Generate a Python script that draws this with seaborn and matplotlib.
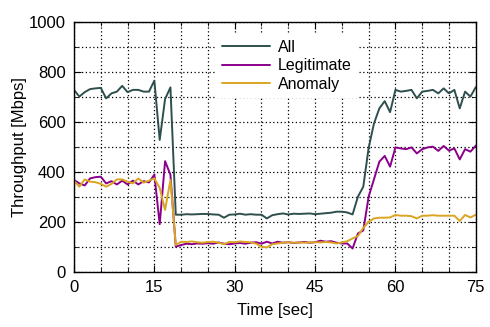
# Throughput over time: all traffic vs legitimate vs anomaly
import numpy as np
import pandas as pd
import seaborn as sns
import matplotlib.pyplot as plt
from matplotlib.ticker import MultipleLocator

time_sec = list(range(76))

all_mbps = [727, 700, 718, 730, 733, 735, 693, 713, 720, 743,
            718, 727, 727, 720, 720, 764, 527, 690, 737, 228,
            228, 230, 229, 230, 231, 231, 229, 228, 216, 228,
            229, 232, 228, 230, 228, 228, 213, 226, 230, 233,
            229, 232, 231, 232, 233, 230, 232, 234, 236, 240,
            240, 237, 229, 300, 340, 495, 593, 653, 682, 638,
            727, 720, 723, 727, 693, 720, 723, 727, 713, 733,
            713, 727, 653, 720, 700, 738]

legit_mbps = [367, 353, 345, 373, 378, 380, 353, 362, 349, 364,
              349, 364, 349, 362, 357, 388, 190, 442, 388, 100,
              107, 112, 110, 113, 112, 114, 112, 117, 112, 110,
              113, 115, 112, 116, 118, 112, 120, 113, 120, 116,
              118, 115, 117, 119, 116, 118, 124, 120, 122, 116,
              113, 113, 93, 153, 165, 300, 370, 440, 463, 420,
              497, 493, 490, 497, 473, 490, 497, 500, 483, 503,
              484, 493, 449, 490, 480, 504]

anomaly_mbps = [364, 340, 369, 360, 358, 351, 340, 351, 369, 369,
                360, 353, 373, 356, 364, 373, 335, 247, 367, 107,
                120, 119, 121, 118, 116, 119, 120, 116, 110, 119,
                118, 121, 119, 118, 112, 100, 97, 110, 113, 116,
                118, 116, 117, 116, 117, 118, 117, 119, 117, 113,
                117, 122, 133, 143, 175, 200, 213, 216, 216, 217,
                227, 224, 224, 222, 213, 224, 224, 226, 224, 224,
                224, 224, 203, 227, 217, 228]

series_names = ["All", "Legitimate", "Anomaly"]
colors = ["#2f4f4f", "#8b008b", "#daa520"]

df = pd.concat([
    pd.DataFrame({"time": time_sec, "mbps": all_mbps, "kind": "All"}),
    pd.DataFrame({"time": time_sec, "mbps": legit_mbps, "kind": "Legitimate"}),
    pd.DataFrame({"time": time_sec, "mbps": anomaly_mbps, "kind": "Anomaly"}),
])

sns.set_style("ticks")
plt.rcParams["font.family"] = ["Liberation Sans", "DejaVu Sans"]
plt.rcParams["font.size"] = 12
plt.rcParams["text.color"] = "black"
plt.rcParams["axes.labelcolor"] = "black"
plt.rcParams["xtick.color"] = "black"
plt.rcParams["ytick.color"] = "black"

fig = plt.figure(figsize=(4.9, 3.27), dpi=100)
ax = fig.add_axes([0.151, 0.169, 0.820, 0.765])

sns.lineplot(data=df, x="time", y="mbps", hue="kind", hue_order=series_names,
             palette=colors, linewidth=1.4, ax=ax)

ax.set_xlim(0, 75)
ax.set_ylim(0, 1000)
ax.xaxis.set_major_locator(MultipleLocator(15))
ax.xaxis.set_minor_locator(MultipleLocator(5))
ax.yaxis.set_major_locator(MultipleLocator(200))
ax.yaxis.set_minor_locator(MultipleLocator(100))
ax.grid(True, which="both", color="black", linestyle=(0, (1, 2)), linewidth=0.9)
ax.set_axisbelow(True)
ax.tick_params(which="both", direction="in", top=True, right=True, labelsize=12, pad=6)
ax.tick_params(which="major", length=5)
ax.tick_params(which="minor", length=3)
for s in ax.spines.values():
    s.set_color("black")
    s.set_linewidth(1)

ax.set_xlabel("Time [sec]", fontsize=12, labelpad=6)
ax.set_ylabel("Throughput [Mbps]", fontsize=12, labelpad=1)

leg = ax.legend(loc="upper left", bbox_to_anchor=(0.333, 0.985), frameon=True,
                facecolor="white", edgecolor="none", framealpha=1, fancybox=False,
                handlelength=3.0, handletextpad=0.5, labelspacing=0.22,
                borderpad=0.4, fontsize=11.5)

plt.savefig("out.png", dpi=100)
